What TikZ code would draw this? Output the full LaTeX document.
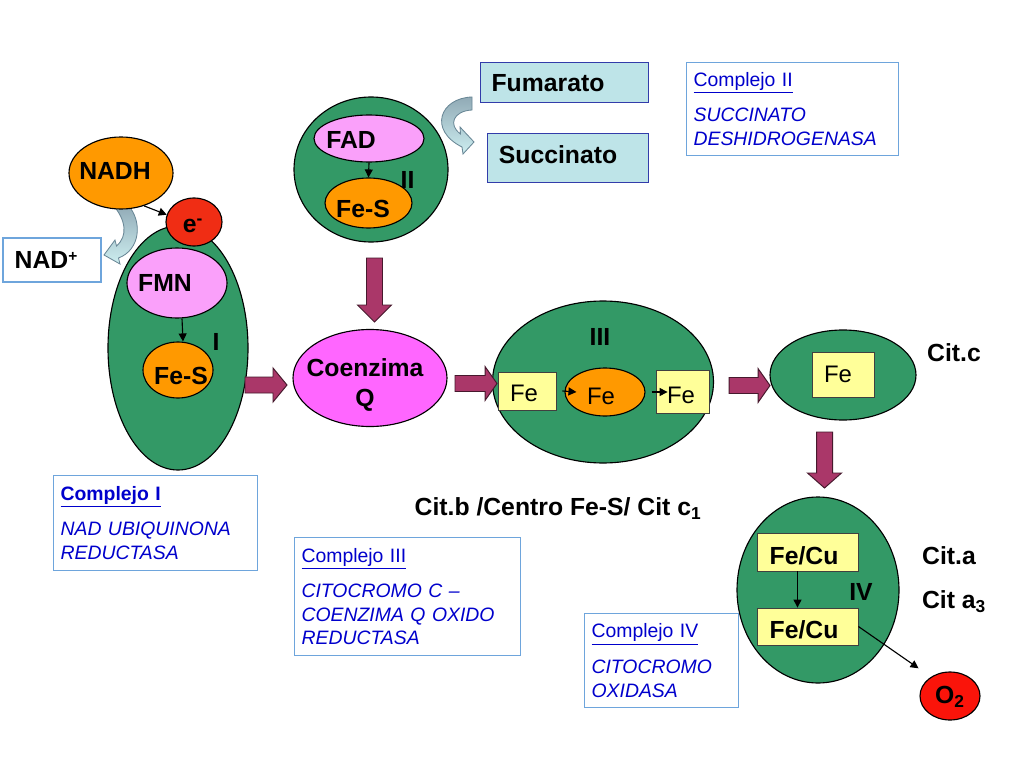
\documentclass[tikz,border=0pt]{standalone}
\usepackage{fontspec}
\setmainfont{Liberation Sans}
\usetikzlibrary{shapes.geometric,arrows.meta}
\newdimen\px \px=0.025cm
\definecolor{cgreen}{RGB}{51,153,102}
\definecolor{corange}{RGB}{255,153,0}
\definecolor{cpink}{RGB}{250,160,250}
\definecolor{cmag}{RGB}{255,102,255}
\definecolor{cred}{RGB}{240,45,20}
\definecolor{coxy}{RGB}{250,20,10}
\definecolor{cyellow}{RGB}{255,255,153}
\definecolor{cbox}{RGB}{190,228,232}
\definecolor{cboxline}{RGB}{50,60,170}
\definecolor{cinfo}{RGB}{110,165,220}
\definecolor{ctext}{RGB}{0,0,204}
\definecolor{cmaroon}{RGB}{170,55,105}
\definecolor{cdark}{RGB}{70,25,45}
\definecolor{ccurvetop}{RGB}{145,170,182}
\definecolor{ccurvebot}{RGB}{205,238,240}
\definecolor{ccurveline}{RGB}{105,135,150}
\newcommand\lblfont{\fontsize{17.6}{20}\selectfont\bfseries}
\newcommand\regfont{\fontsize{17}{20}\selectfont}
\newcommand\infofont{\fontsize{13.8}{17}\selectfont}
\newcommand\barrow[5]{%
  \begin{scope}[shift={(#1,#2)},rotate=#3]
    \path[bigarrow] (0,-8) -- ({#4-#5},-8) -- ({#4-#5},-17) -- (#4,0)
      -- ({#4-#5},17) -- ({#4-#5},8) -- (0,8) -- cycle;
  \end{scope}}
\tikzset{
  sz/.style 2 args={minimum width=#1\px, minimum height=#2\px},
  shp/.style={ellipse, draw=black, line width=0.8pt, inner sep=0pt},
  ybox/.style={rectangle, draw=black!75, line width=0.6pt, fill=cyellow, inner sep=0pt},
  bbox/.style={rectangle, draw=cboxline, line width=0.7pt, fill=cbox, inner sep=0pt},
  lbl/.style={font=\lblfont, text height=12.6pt, text depth=0pt, inner sep=0pt},
  rlbl/.style={font=\regfont, text height=12.2pt, text depth=0pt, inner sep=0pt},
  infobox/.style={rectangle, draw=cinfo, line width=0.8pt, fill=white, align=left,
    font=\infofont, text=ctext, anchor=north west, inner xsep=0.175cm, inner ysep=0pt},
  flow/.style={-{Triangle[length=5.7pt,width=5.7pt]}, line width=0.8pt, draw=black},
  bigarrow/.style={fill=cmaroon, draw=cdark, line width=0.7pt},
  curvy/.style={top color=ccurvetop, bottom color=ccurvebot, draw=ccurveline, line width=0.6pt},
}
\begin{document}
\begin{tikzpicture}[x=0.025cm, y=-0.025cm]
\fill[white] (0,0) rectangle (1024,768);
\useasboundingbox (0,0) rectangle (1024,768);

% ---------------- Complex I
\node[shp, fill=cgreen, sz={140}{244}] (cI) at (178,348) {};
\node[shp, fill=cpink, sz={100}{70}] (fmn) at (177,283) {};
\node[lbl] (fmnt) at (165,283) {FMN};
\node[shp, fill=corange, sz={70}{56}] (fesI) at (178,370) {};
\node[lbl] (fesIt) at (181,376) {Fe-S};
\node[lbl] (lI) at (216,342) {I};
\draw[flow] ([xshift=0.125cm]fmn.south) -- ([xshift=0.125cm]fesI.north);
\node[shp, fill=cred, sz={56}{48}] (em) at (194,222) {};
\node[lbl] (emt) at (193,224) {e\textsuperscript{-}};
\path[curvy] (113,205) .. controls (126,220) and (128,236) .. (116.5,246) -- (115,240)
  -- (104,255) -- (120,264) -- (118.5,258) .. controls (140,250) and (143,222) .. (128,205) -- cycle;
\node[shp, fill=corange, sz={104}{72}] (nadh) at (121,173) {};
\node[lbl] (nadht) at (115,171) {NADH};
\draw[flow] (nadh.305) -- (em.165);
\node[rectangle, draw=cinfo, line width=0.8pt, fill=white, sz={98}{44}] (nadp) at (52,260) {};
\node[lbl] (nadpt) at (46,260) {NAD\raisebox{0.3em}{\fontsize{11}{11}\selectfont +}};

% ---------------- Complex II
\node[shp, fill=cgreen, sz={154}{145}] (cII) at (371,169.5) {};
\node[shp, fill=cpink, sz={110}{47}] (fad) at (369,138.5) {};
\node[lbl] (fadt) at (351,139.5) {FAD};
\node[shp, fill=corange, sz={87}{50}] (fesII) at (368.5,203) {};
\node[lbl] (fesIIt) at (363,208.5) {Fe-S};
\node[lbl] (lII) at (407.5,180) {II};
\draw[flow] (fad.south) -- (fesII.north);
\path[curvy] (472,97) .. controls (440,98) and (428,130) .. (462,147) -- (463,154)
  -- (474,142) -- (460,127) -- (460.5,134) .. controls (448,125) and (453,111) .. (472,110) -- cycle;
\node[bbox, sz={168}{40}] (fum) at (564,82) {};
\node[lbl] (fumt) at (548,83) {Fumarato};
\node[bbox, sz={161}{49}] (suc) at (567.5,157.5) {};
\node[lbl] (suct) at (558,155) {Succinato};

% ---------------- Coenzima Q
\node[shp, fill=cmag, sz={154}{97}] (coq) at (370,378) {};
\node[lbl] (coqt1) at (365,368) {Coenzima};
\node[lbl] (coqt2) at (365,398) {Q};

% ---------------- Complex III
\node[shp, fill=cgreen, sz={221}{162}] (cIII) at (603,382) {};
\node[lbl] (lIII) at (600,337) {III};
\node[ybox, sz={58}{38}] (fe1) at (527,391) {};
\node[rlbl] (fe1t) at (524,393) {Fe};
\node[shp, fill=corange, sz={80}{48}] (fe2) at (605,392) {};
\node[rlbl] (fe2t) at (601,396) {Fe};
\node[ybox, sz={53}{43}] (fe3) at (682.5,392) {};
\node[rlbl] (fe3t) at (681,395) {Fe};
\draw[flow] ([xshift=0.15cm]fe1.east) -- ([xshift=0.3cm]fe2.west);
\draw[flow] ([xshift=0.15cm]fe2.east) -- ([xshift=0.3cm]fe3.west);
\node[lbl] (citb) at (558,507) {Cit.b /Centro Fe-S/ Cit c\textsubscript{1}};

% ---------------- Cit c
\node[shp, fill=cgreen, sz={146}{90}] (cc) at (843,375) {};
\node[ybox, sz={62}{45}] (fec) at (843,374.5) {};
\node[rlbl] (fect) at (838,374) {Fe};
\node[lbl] (citc) at (954,353) {Cit.c};

% ---------------- Complex IV
\node[shp, fill=cgreen, sz={162}{186}] (cIV) at (818,590) {};
\node[ybox, sz={101}{38}] (fc1) at (807.5,552) {};
\node[lbl] (fc1t) at (804,556) {Fe/Cu};
\node[ybox, sz={101}{37}] (fc2) at (807.5,626.5) {};
\node[lbl] (fc2t) at (804,630) {Fe/Cu};
\node[lbl] (lIV) at (861,592) {IV};
\draw[flow] ([xshift=-0.25cm]fc1.south) -- ([xshift=-0.25cm]fc2.north);
\node[shp, fill=coxy, sz={60}{48}] (oxy) at (950,696) {};
\node[lbl] (oxyt) at (950,695) {O\textsubscript{2}};
\draw[flow, shorten >=0.375cm] (fc2.east) -- (oxy.135);
\node[lbl] (cita) at (949,556) {Cit.a};
\node[lbl] (cita3) at (954,600) {Cit a\textsubscript{3}};

% ---------------- big arrows
\barrow{245}{385}{0}{42}{14}
\barrow{455}{383.5}{0}{42}{12}
\barrow{729}{385.5}{0}{41}{12}
\barrow{374.5}{258}{-90}{64}{17}
\barrow{824.5}{432}{-90}{56}{15}

% ---------------- info boxes
\node[infobox, sz={212}{93}, text width=4.95cm] (info2) at (686,62)
  {\underline{Complejo II}\\[8pt]\textit{SUCCINATO}\\\textit{DESHIDROGENASA}};
\node[infobox, sz={204}{95}, text width=4.75cm] (info1) at (53,475)
  {\textbf{\underline{Complejo I}}\\[8pt]\textit{NAD UBIQUINONA}\\\textit{REDUCTASA}};
\node[infobox, sz={226}{118}, text width=5.3cm] (info3) at (294,537)
  {\underline{Complejo III}\\[8pt]\textit{CITOCROMO C –}\\\textit{COENZIMA Q OXIDO}\\\textit{REDUCTASA}};
\node[infobox, sz={154}{94}, text width=3.5cm] (info4) at (584,613)
  {\underline{Complejo IV}\\[8pt]\textit{CITOCROMO}\\\textit{OXIDASA}};
\end{tikzpicture}
\end{document}
